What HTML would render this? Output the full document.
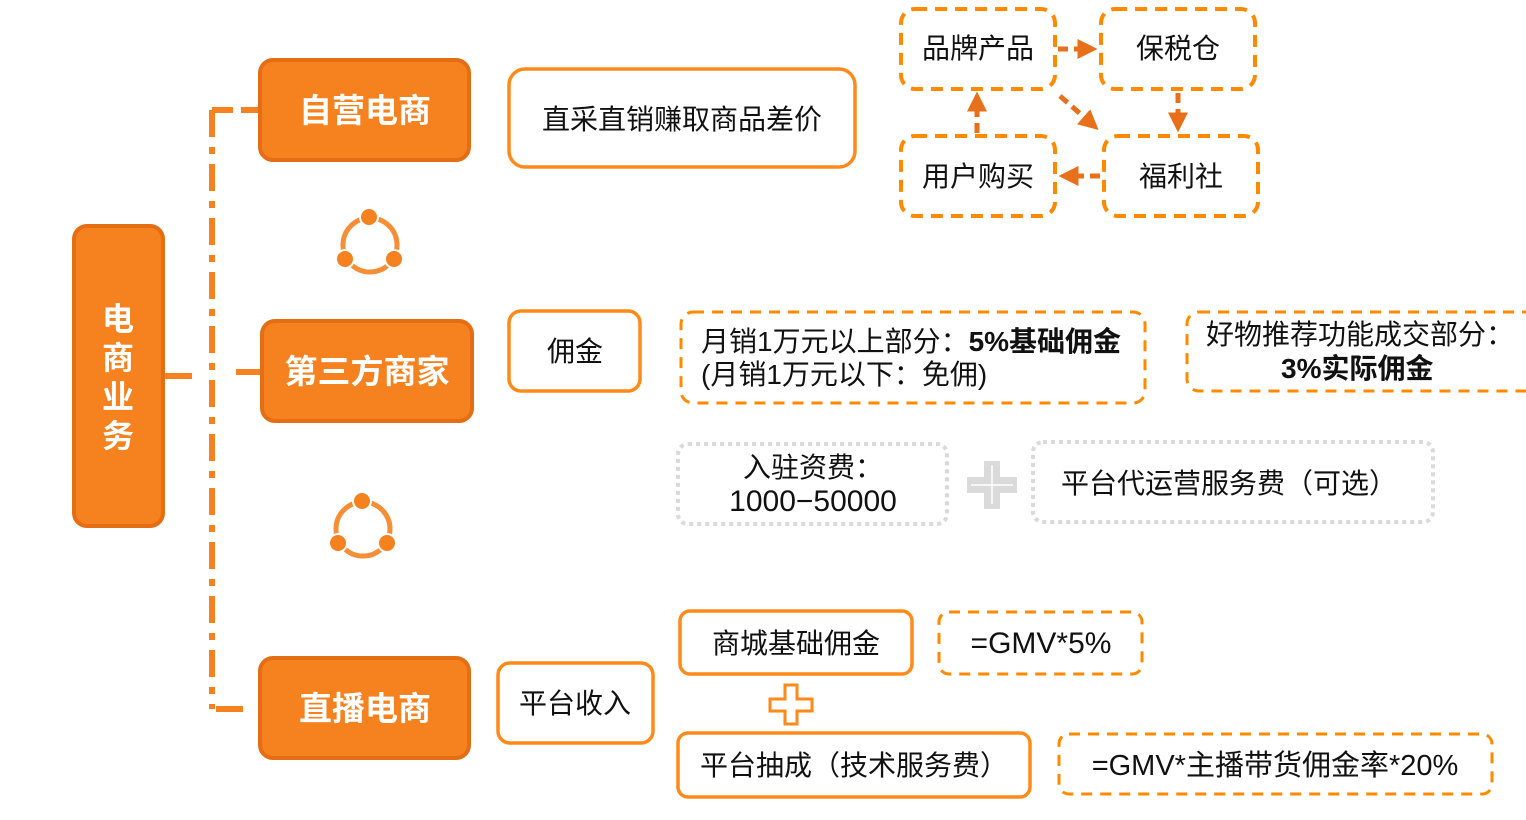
<!DOCTYPE html>
<html><head><meta charset="utf-8"><style>
html,body{margin:0;padding:0;background:#fff;}
svg{display:block;}
text{font-family:"Liberation Sans","Noto Sans CJK SC",sans-serif;}
</style></head><body>
<svg width="1526" height="820" viewBox="0 0 1526 820" xmlns="http://www.w3.org/2000/svg">
<defs>
<marker id="ah" markerWidth="4" markerHeight="4" refX="2.5" refY="2" orient="auto" markerUnits="strokeWidth">
<path d="M0,0 L4,2 L0,4 Z" fill="#E8701A"/>
</marker>
</defs>
<g stroke="#F5821F" stroke-width="6" fill="none">
<path d="M212,110 V709" stroke-dasharray="27 10 7 10"/>
<path d="M212,110 H233 M241,110 H259"/>
<path d="M164,376 H192 M236,372 H261"/>
<path d="M216,709 H243"/>
</g>
<g fill="#F5821F" stroke="#E56D14" stroke-width="4">
<rect x="74" y="226" width="89" height="300" rx="13"/>
<rect x="260" y="60" width="209" height="100" rx="13"/>
<rect x="262" y="321" width="210" height="100" rx="13"/>
<rect x="260" y="658" width="209" height="100" rx="13"/>
</g>
<g fill="#fff" font-size="32" font-weight="bold" text-anchor="middle">
<text x="118" y="330">电</text>
<text x="118" y="369">商</text>
<text x="118" y="408">业</text>
<text x="118" y="447">务</text>
<text x="365" y="122" font-size="33">自营电商</text>
<text x="367" y="383" font-size="33">第三方商家</text>
<text x="365" y="720" font-size="33">直播电商</text>
</g>
<g>
<circle cx="370" cy="245" r="27" fill="none" stroke="#F5821F" stroke-width="5" opacity="0.9"/>
<circle cx="369" cy="217" r="10" fill="#fff"/><circle cx="345" cy="259" r="10" fill="#fff"/><circle cx="394" cy="259" r="10" fill="#fff"/>
<circle cx="369" cy="217" r="8" fill="#F5821F"/><circle cx="345" cy="259" r="8" fill="#F5821F"/><circle cx="394" cy="259" r="8" fill="#F5821F"/>
<circle cx="363" cy="529" r="27" fill="none" stroke="#F5821F" stroke-width="5" opacity="0.9"/>
<circle cx="362" cy="501" r="10" fill="#fff"/><circle cx="338" cy="543" r="10" fill="#fff"/><circle cx="387" cy="543" r="10" fill="#fff"/>
<circle cx="362" cy="501" r="8" fill="#F5821F"/><circle cx="338" cy="543" r="8" fill="#F5821F"/><circle cx="387" cy="543" r="8" fill="#F5821F"/>
</g>
<g fill="#fff" stroke="#FF8A1A" stroke-width="3.5">
<rect x="509" y="69" width="346" height="98" rx="16"/>
<rect x="509" y="311" width="131" height="80" rx="12"/>
<rect x="498" y="663" width="155" height="80" rx="12"/>
<rect x="680" y="611" width="232" height="63" rx="10"/>
<rect x="678" y="733" width="352" height="64" rx="10"/>
</g>
<g fill="none" stroke="#FF8A00" stroke-width="4" stroke-dasharray="12 8">
<rect x="901" y="9" width="154" height="80" rx="14"/>
<rect x="1101" y="9" width="154" height="80" rx="14"/>
<rect x="901" y="136" width="154" height="80" rx="14"/>
<rect x="1104" y="136" width="154" height="80" rx="14"/>
</g>
<g fill="none" stroke="#FF8A00" stroke-width="3" stroke-dasharray="11 8">
<rect x="681" y="312" width="464" height="91" rx="12"/>
<rect x="1187" y="312" width="360" height="79" rx="12"/>
<rect x="939" y="612" width="203" height="62" rx="10"/>
<rect x="1059" y="734" width="433" height="60" rx="10"/>
</g>
<g fill="none" stroke="#DADADA" stroke-width="4" stroke-dasharray="4 4">
<rect x="678" y="444" width="269" height="80" rx="10"/>
<rect x="1033" y="442" width="400" height="80" rx="10"/>
</g>
<g stroke="#E8701A" stroke-width="5" stroke-dasharray="10 6" fill="none" marker-end="url(#ah)">
<path d="M1058,49 H1090"/>
<path d="M1060,96 L1093,125"/>
<path d="M1178,93 V125"/>
<path d="M1100,176 H1066"/>
<path d="M977,133 V99"/>
</g>
<path d="M984,461 h16 v16 h17 v16 h-17 v16 h-16 v-16 h-17 v-16 h17 z" fill="#DADADA"/>
<path d="M992,465 V504 M971,485 H1013" stroke="#fff" stroke-width="1.5"/>
<path d="M785,685 h12 v14 h15 v12 h-15 v13 h-12 v-13 h-15 v-12 h15 z" fill="#fff" stroke="#FF8A1A" stroke-width="3"/>
<g fill="#111" font-size="28" text-anchor="middle">
<text x="682" y="129">直采直销赚取商品差价</text>
<text x="978" y="58">品牌产品</text>
<text x="1178" y="58">保税仓</text>
<text x="978" y="186">用户购买</text>
<text x="1181" y="186">福利社</text>
<text x="575" y="361">佣金</text>
<text x="813" y="477">入驻资费：</text>
<text x="813" y="511" font-size="30">1000−50000</text>
<text x="1229" y="493">平台代运营服务费（可选）</text>
<text x="575" y="713">平台收入</text>
<text x="796" y="653">商城基础佣金</text>
<text x="1041" y="653" font-size="30">=GMV*5%</text>
<text x="854" y="775">平台抽成（技术服务费）</text>
<text x="1275" y="775" font-size="29">=GMV*主播带货佣金率*20%</text>
</g>
<g fill="#111" font-size="28">
<text x="701" y="351">月销1万元以上部分：<tspan font-weight="bold">5%基础佣金</tspan></text>
<text x="701" y="384">(月销1万元以下：免佣)</text>
<text x="1206" y="344">好物推荐功能成交部分：</text>
<text x="1281" y="378" font-weight="bold">3%实际佣金</text>
</g>
</svg>
</body></html>
